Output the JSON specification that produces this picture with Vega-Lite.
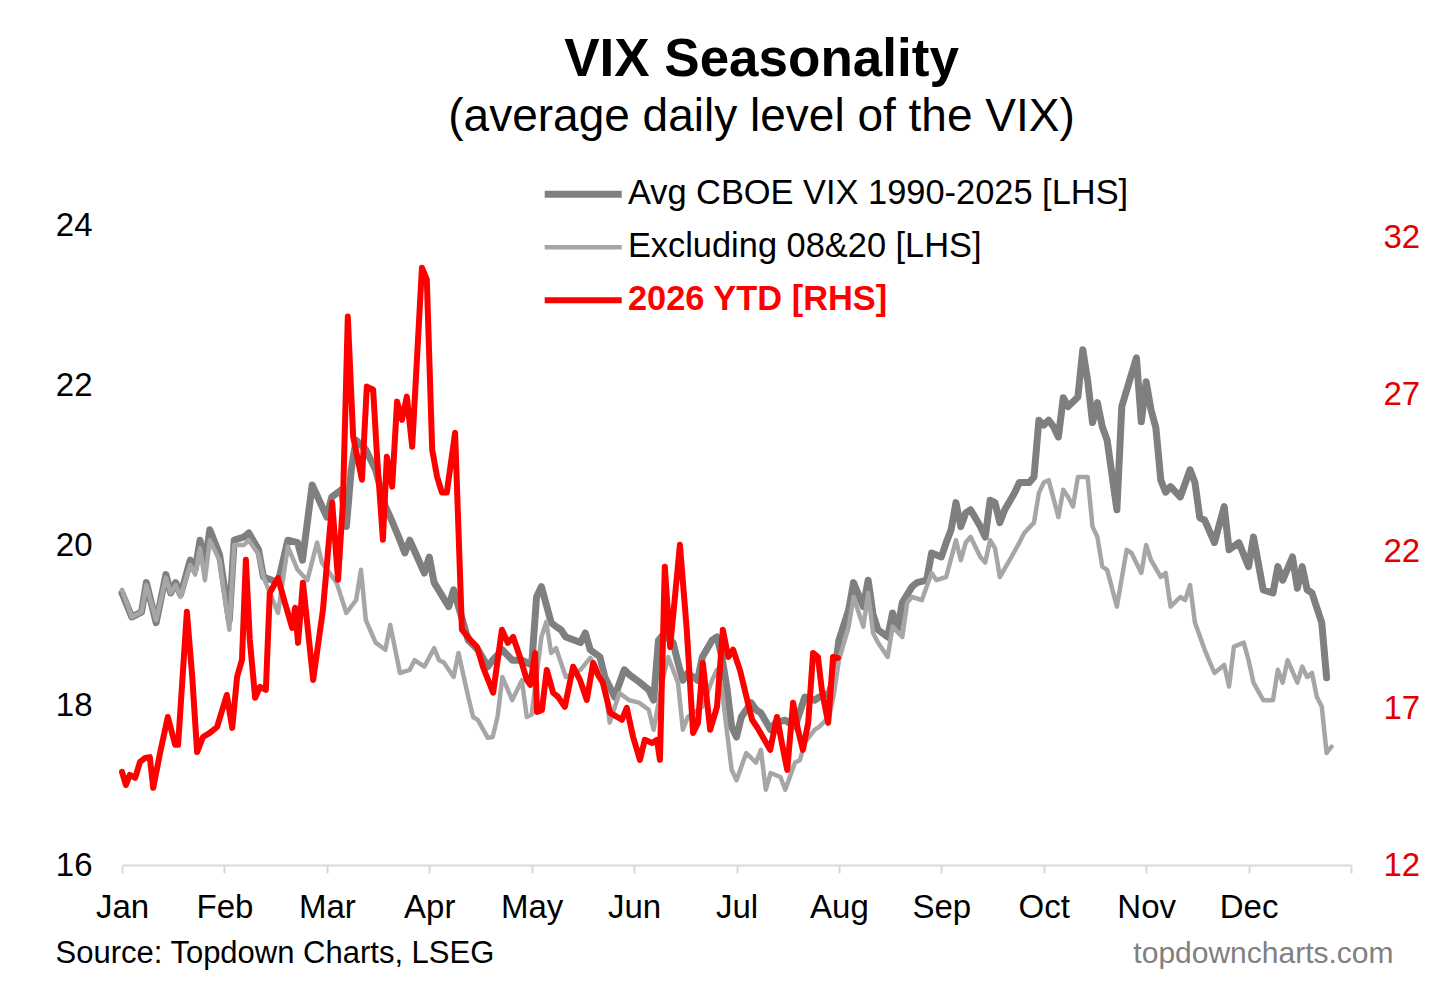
{
  "$schema": "https://vega.github.io/schema/vega-lite/v6.json",
  "width": 1229,
  "height": 640,
  "autosize": {"type": "none"},
  "padding": {"left": 122, "top": 225, "right": 105, "bottom": 134},
  "background": "white",
  "config": {
    "font": "Liberation Sans",
    "view": {"stroke": null},
    "axis": {"grid": false}
  },
  "title": {
    "text": "VIX Seasonality",
    "subtitle": "(average daily level of the VIX)",
    "fontSize": 53,
    "fontWeight": "bold",
    "color": "black",
    "subtitleFontSize": 46,
    "subtitleColor": "black",
    "subtitlePadding": 8,
    "anchor": "middle",
    "dx": 25,
    "offset": 37
  },
  "datasets": {
    "avg": [
      {"day": 0, "vix": 19.40}, {"day": 2, "vix": 19.10}, {"day": 4, "vix": 19.16}, {"day": 5, "vix": 19.53},
      {"day": 7, "vix": 19.03}, {"day": 9, "vix": 19.63}, {"day": 10, "vix": 19.40}, {"day": 11, "vix": 19.53},
      {"day": 12, "vix": 19.38}, {"day": 14, "vix": 19.81}, {"day": 15, "vix": 19.69}, {"day": 16, "vix": 20.06},
      {"day": 17, "vix": 19.75}, {"day": 18, "vix": 20.19}, {"day": 20, "vix": 19.88}, {"day": 22, "vix": 19.06},
      {"day": 23, "vix": 20.06}, {"day": 25, "vix": 20.10}, {"day": 26, "vix": 20.15}, {"day": 28, "vix": 19.94},
      {"day": 29, "vix": 19.60}, {"day": 32, "vix": 19.53}, {"day": 34, "vix": 20.06}, {"day": 36, "vix": 20.03},
      {"day": 37, "vix": 19.81}, {"day": 39, "vix": 20.75}, {"day": 42, "vix": 20.35}, {"day": 43, "vix": 20.60},
      {"day": 45, "vix": 20.69}, {"day": 46, "vix": 20.23}, {"day": 47, "vix": 20.94}, {"day": 48, "vix": 21.31},
      {"day": 50, "vix": 21.19}, {"day": 52, "vix": 20.94}, {"day": 54, "vix": 20.48}, {"day": 55, "vix": 20.35},
      {"day": 57, "vix": 20.06}, {"day": 58, "vix": 19.90}, {"day": 59, "vix": 20.06}, {"day": 62, "vix": 19.65},
      {"day": 63, "vix": 19.85}, {"day": 64, "vix": 19.53}, {"day": 67, "vix": 19.23}, {"day": 68, "vix": 19.44},
      {"day": 71, "vix": 18.81}, {"day": 73, "vix": 18.69}, {"day": 75, "vix": 18.48}, {"day": 76, "vix": 18.56},
      {"day": 78, "vix": 18.69}, {"day": 80, "vix": 18.56}, {"day": 82, "vix": 18.56}, {"day": 84, "vix": 18.50},
      {"day": 85, "vix": 19.35}, {"day": 86, "vix": 19.48}, {"day": 88, "vix": 19.03}, {"day": 89, "vix": 18.98},
      {"day": 90, "vix": 18.94}, {"day": 91, "vix": 18.85}, {"day": 94, "vix": 18.78}, {"day": 95, "vix": 18.90},
      {"day": 96, "vix": 18.69}, {"day": 98, "vix": 18.60}, {"day": 99, "vix": 18.35}, {"day": 101, "vix": 18.10},
      {"day": 103, "vix": 18.44}, {"day": 104, "vix": 18.38}, {"day": 106, "vix": 18.29}, {"day": 108, "vix": 18.19},
      {"day": 109, "vix": 18.06}, {"day": 110, "vix": 18.81}, {"day": 111, "vix": 18.88}, {"day": 113, "vix": 18.78},
      {"day": 114, "vix": 18.53}, {"day": 115, "vix": 18.31}, {"day": 116, "vix": 18.40}, {"day": 118, "vix": 18.31},
      {"day": 119, "vix": 18.60}, {"day": 121, "vix": 18.81}, {"day": 122, "vix": 18.85}, {"day": 123, "vix": 18.60},
      {"day": 124, "vix": 18.23}, {"day": 125, "vix": 17.73}, {"day": 126, "vix": 17.60}, {"day": 127, "vix": 17.85},
      {"day": 129, "vix": 18.03}, {"day": 130, "vix": 17.94}, {"day": 131, "vix": 17.90}, {"day": 133, "vix": 17.69},
      {"day": 134, "vix": 17.78}, {"day": 136, "vix": 17.81}, {"day": 138, "vix": 17.73}, {"day": 140, "vix": 18.10},
      {"day": 142, "vix": 18.06}, {"day": 143, "vix": 18.10}, {"day": 145, "vix": 18.15}, {"day": 146, "vix": 18.35},
      {"day": 147, "vix": 18.81}, {"day": 149, "vix": 19.19}, {"day": 150, "vix": 19.53}, {"day": 152, "vix": 19.23},
      {"day": 153, "vix": 19.56}, {"day": 154, "vix": 19.13}, {"day": 155, "vix": 18.94}, {"day": 157, "vix": 18.85},
      {"day": 158, "vix": 19.15}, {"day": 159, "vix": 18.94}, {"day": 160, "vix": 19.28}, {"day": 162, "vix": 19.48},
      {"day": 163, "vix": 19.53}, {"day": 165, "vix": 19.56}, {"day": 166, "vix": 19.90}, {"day": 168, "vix": 19.85},
      {"day": 169, "vix": 20.03}, {"day": 170, "vix": 20.19}, {"day": 171, "vix": 20.53}, {"day": 172, "vix": 20.23},
      {"day": 173, "vix": 20.40}, {"day": 174, "vix": 20.44}, {"day": 176, "vix": 20.23}, {"day": 177, "vix": 20.10},
      {"day": 178, "vix": 20.56}, {"day": 179, "vix": 20.53}, {"day": 180, "vix": 20.28}, {"day": 181, "vix": 20.44},
      {"day": 183, "vix": 20.65}, {"day": 184, "vix": 20.78}, {"day": 186, "vix": 20.78}, {"day": 187, "vix": 20.85},
      {"day": 188, "vix": 21.56}, {"day": 189, "vix": 21.50}, {"day": 190, "vix": 21.56}, {"day": 191, "vix": 21.48},
      {"day": 192, "vix": 21.35}, {"day": 193, "vix": 21.84}, {"day": 194, "vix": 21.73}, {"day": 196, "vix": 21.85},
      {"day": 197, "vix": 22.44}, {"day": 198, "vix": 22.06}, {"day": 199, "vix": 21.53}, {"day": 200, "vix": 21.78},
      {"day": 201, "vix": 21.48}, {"day": 202, "vix": 21.31}, {"day": 204, "vix": 20.44}, {"day": 205, "vix": 21.73},
      {"day": 208, "vix": 22.34}, {"day": 209, "vix": 21.54}, {"day": 210, "vix": 22.04}, {"day": 211, "vix": 21.69},
      {"day": 212, "vix": 21.46}, {"day": 213, "vix": 20.81}, {"day": 214, "vix": 20.66}, {"day": 215, "vix": 20.73},
      {"day": 217, "vix": 20.60}, {"day": 219, "vix": 20.94}, {"day": 220, "vix": 20.78}, {"day": 221, "vix": 20.34},
      {"day": 222, "vix": 20.31}, {"day": 224, "vix": 20.03}, {"day": 226, "vix": 20.48}, {"day": 227, "vix": 19.94},
      {"day": 229, "vix": 20.03}, {"day": 231, "vix": 19.73}, {"day": 232, "vix": 20.10}, {"day": 234, "vix": 19.44},
      {"day": 236, "vix": 19.40}, {"day": 237, "vix": 19.73}, {"day": 238, "vix": 19.56}, {"day": 240, "vix": 19.85},
      {"day": 241, "vix": 19.46}, {"day": 242, "vix": 19.73}, {"day": 243, "vix": 19.44}, {"day": 244, "vix": 19.40},
      {"day": 246, "vix": 19.03}, {"day": 247, "vix": 18.34}
    ],
    "ex": [
      {"day": 0, "vix": 19.44}, {"day": 2, "vix": 19.10}, {"day": 4, "vix": 19.16}, {"day": 5, "vix": 19.50},
      {"day": 7, "vix": 19.06}, {"day": 9, "vix": 19.59}, {"day": 10, "vix": 19.40}, {"day": 11, "vix": 19.50},
      {"day": 12, "vix": 19.35}, {"day": 14, "vix": 19.75}, {"day": 15, "vix": 19.63}, {"day": 16, "vix": 19.96},
      {"day": 17, "vix": 19.56}, {"day": 18, "vix": 20.06}, {"day": 20, "vix": 19.81}, {"day": 22, "vix": 18.94},
      {"day": 23, "vix": 20.00}, {"day": 25, "vix": 20.00}, {"day": 26, "vix": 20.06}, {"day": 28, "vix": 19.88},
      {"day": 29, "vix": 19.60}, {"day": 32, "vix": 19.15}, {"day": 34, "vix": 19.98}, {"day": 36, "vix": 19.69},
      {"day": 38, "vix": 19.56}, {"day": 40, "vix": 20.03}, {"day": 41, "vix": 19.78}, {"day": 44, "vix": 19.53},
      {"day": 46, "vix": 19.15}, {"day": 48, "vix": 19.31}, {"day": 49, "vix": 19.69}, {"day": 50, "vix": 19.06},
      {"day": 52, "vix": 18.78}, {"day": 54, "vix": 18.69}, {"day": 55, "vix": 19.00}, {"day": 57, "vix": 18.40},
      {"day": 59, "vix": 18.44}, {"day": 60, "vix": 18.56}, {"day": 62, "vix": 18.48}, {"day": 64, "vix": 18.71},
      {"day": 65, "vix": 18.56}, {"day": 66, "vix": 18.53}, {"day": 68, "vix": 18.35}, {"day": 69, "vix": 18.65},
      {"day": 71, "vix": 18.10}, {"day": 72, "vix": 17.85}, {"day": 73, "vix": 17.81}, {"day": 75, "vix": 17.59},
      {"day": 76, "vix": 17.60}, {"day": 77, "vix": 17.85}, {"day": 78, "vix": 18.35}, {"day": 80, "vix": 18.06},
      {"day": 82, "vix": 18.31}, {"day": 83, "vix": 17.85}, {"day": 84, "vix": 17.88}, {"day": 86, "vix": 18.85},
      {"day": 87, "vix": 19.04}, {"day": 88, "vix": 18.65}, {"day": 89, "vix": 18.71}, {"day": 90, "vix": 18.53},
      {"day": 91, "vix": 18.35}, {"day": 94, "vix": 18.44}, {"day": 96, "vix": 18.59}, {"day": 97, "vix": 18.50},
      {"day": 99, "vix": 18.23}, {"day": 100, "vix": 17.78}, {"day": 102, "vix": 18.15}, {"day": 104, "vix": 18.06},
      {"day": 106, "vix": 18.03}, {"day": 108, "vix": 17.94}, {"day": 109, "vix": 17.69}, {"day": 111, "vix": 18.35},
      {"day": 112, "vix": 18.60}, {"day": 114, "vix": 18.28}, {"day": 115, "vix": 17.69}, {"day": 116, "vix": 17.85},
      {"day": 119, "vix": 17.98}, {"day": 121, "vix": 18.31}, {"day": 122, "vix": 18.44}, {"day": 123, "vix": 18.19},
      {"day": 125, "vix": 17.19}, {"day": 126, "vix": 17.06}, {"day": 128, "vix": 17.40}, {"day": 130, "vix": 17.28},
      {"day": 131, "vix": 17.44}, {"day": 132, "vix": 16.94}, {"day": 133, "vix": 17.15}, {"day": 135, "vix": 17.10},
      {"day": 136, "vix": 16.94}, {"day": 138, "vix": 17.28}, {"day": 139, "vix": 17.31}, {"day": 140, "vix": 17.53},
      {"day": 142, "vix": 17.69}, {"day": 143, "vix": 17.73}, {"day": 145, "vix": 17.85}, {"day": 146, "vix": 18.15},
      {"day": 147, "vix": 18.56}, {"day": 149, "vix": 18.98}, {"day": 150, "vix": 19.35}, {"day": 152, "vix": 18.98},
      {"day": 153, "vix": 19.40}, {"day": 154, "vix": 18.90}, {"day": 155, "vix": 18.78}, {"day": 157, "vix": 18.60},
      {"day": 158, "vix": 18.98}, {"day": 160, "vix": 18.85}, {"day": 161, "vix": 19.28}, {"day": 162, "vix": 19.35},
      {"day": 164, "vix": 19.31}, {"day": 166, "vix": 19.65}, {"day": 167, "vix": 19.56}, {"day": 169, "vix": 19.60},
      {"day": 171, "vix": 20.06}, {"day": 172, "vix": 19.81}, {"day": 173, "vix": 20.03}, {"day": 174, "vix": 20.10},
      {"day": 176, "vix": 19.85}, {"day": 177, "vix": 19.78}, {"day": 178, "vix": 20.06}, {"day": 179, "vix": 19.96},
      {"day": 180, "vix": 19.60}, {"day": 182, "vix": 19.81}, {"day": 184, "vix": 20.03}, {"day": 185, "vix": 20.15},
      {"day": 187, "vix": 20.28}, {"day": 188, "vix": 20.65}, {"day": 189, "vix": 20.78}, {"day": 190, "vix": 20.81},
      {"day": 192, "vix": 20.35}, {"day": 193, "vix": 20.69}, {"day": 194, "vix": 20.60}, {"day": 195, "vix": 20.48},
      {"day": 196, "vix": 20.85}, {"day": 198, "vix": 20.85}, {"day": 199, "vix": 20.23}, {"day": 200, "vix": 20.10},
      {"day": 201, "vix": 19.73}, {"day": 202, "vix": 19.69}, {"day": 204, "vix": 19.23}, {"day": 206, "vix": 19.94},
      {"day": 207, "vix": 19.90}, {"day": 209, "vix": 19.65}, {"day": 210, "vix": 20.00}, {"day": 211, "vix": 19.81},
      {"day": 213, "vix": 19.60}, {"day": 214, "vix": 19.65}, {"day": 215, "vix": 19.23}, {"day": 217, "vix": 19.35},
      {"day": 218, "vix": 19.31}, {"day": 219, "vix": 19.50}, {"day": 220, "vix": 19.03}, {"day": 222, "vix": 18.69},
      {"day": 224, "vix": 18.40}, {"day": 226, "vix": 18.50}, {"day": 227, "vix": 18.23}, {"day": 228, "vix": 18.73},
      {"day": 230, "vix": 18.78}, {"day": 231, "vix": 18.56}, {"day": 232, "vix": 18.28}, {"day": 234, "vix": 18.06},
      {"day": 236, "vix": 18.06}, {"day": 237, "vix": 18.44}, {"day": 238, "vix": 18.28}, {"day": 239, "vix": 18.56},
      {"day": 241, "vix": 18.28}, {"day": 242, "vix": 18.48}, {"day": 243, "vix": 18.35}, {"day": 244, "vix": 18.40},
      {"day": 245, "vix": 18.10}, {"day": 246, "vix": 17.98}, {"day": 247, "vix": 17.40}, {"day": 248, "vix": 17.48}
    ],
    "ytd": [
      {"day": 0.0, "vix": 14.97}, {"day": 0.8, "vix": 14.55}, {"day": 1.6, "vix": 14.87}, {"day": 2.7, "vix": 14.78},
      {"day": 3.7, "vix": 15.29}, {"day": 4.7, "vix": 15.41}, {"day": 5.7, "vix": 15.44}, {"day": 6.4, "vix": 14.46},
      {"day": 7.8, "vix": 15.57}, {"day": 9.4, "vix": 16.72}, {"day": 10.9, "vix": 15.83}, {"day": 11.5, "vix": 15.83},
      {"day": 13.3, "vix": 20.07}, {"day": 14.4, "vix": 18.00}, {"day": 15.4, "vix": 15.60}, {"day": 16.6, "vix": 16.08},
      {"day": 18.0, "vix": 16.21}, {"day": 19.5, "vix": 16.40}, {"day": 21.5, "vix": 17.42}, {"day": 22.6, "vix": 16.37},
      {"day": 23.6, "vix": 18.00}, {"day": 24.6, "vix": 18.54}, {"day": 25.4, "vix": 21.73}, {"day": 26.2, "vix": 19.18},
      {"day": 27.3, "vix": 17.33}, {"day": 28.3, "vix": 17.68}, {"day": 29.5, "vix": 17.58}, {"day": 30.3, "vix": 20.68},
      {"day": 32.0, "vix": 21.15}, {"day": 33.4, "vix": 20.36}, {"day": 34.9, "vix": 19.56}, {"day": 35.5, "vix": 20.20},
      {"day": 36.1, "vix": 19.08}, {"day": 37.1, "vix": 21.00}, {"day": 39.2, "vix": 17.90}, {"day": 41.2, "vix": 20.13},
      {"day": 43.1, "vix": 23.55}, {"day": 44.3, "vix": 21.09}, {"day": 45.3, "vix": 23.55}, {"day": 46.3, "vix": 29.48},
      {"day": 47.4, "vix": 25.65}, {"day": 49.2, "vix": 24.28}, {"day": 50.2, "vix": 27.25}, {"day": 51.5, "vix": 27.15},
      {"day": 52.3, "vix": 25.01}, {"day": 53.5, "vix": 22.37}, {"day": 54.3, "vix": 25.01}, {"day": 55.4, "vix": 24.06},
      {"day": 56.4, "vix": 26.77}, {"day": 57.4, "vix": 26.19}, {"day": 58.4, "vix": 26.93}, {"day": 59.5, "vix": 25.33},
      {"day": 61.5, "vix": 31.04}, {"day": 62.5, "vix": 30.66}, {"day": 63.6, "vix": 25.24}, {"day": 64.6, "vix": 24.38},
      {"day": 65.6, "vix": 23.87}, {"day": 66.6, "vix": 23.87}, {"day": 68.3, "vix": 25.78}, {"day": 69.7, "vix": 19.50},
      {"day": 71.4, "vix": 19.18}, {"day": 72.8, "vix": 18.95}, {"day": 74.0, "vix": 18.32}, {"day": 76.1, "vix": 17.49},
      {"day": 77.9, "vix": 19.50}, {"day": 79.1, "vix": 19.08}, {"day": 80.2, "vix": 19.27}, {"day": 81.6, "vix": 18.63},
      {"day": 83.0, "vix": 17.90}, {"day": 83.7, "vix": 17.74}, {"day": 84.7, "vix": 18.76}, {"day": 85.1, "vix": 16.88},
      {"day": 86.1, "vix": 16.94}, {"day": 87.1, "vix": 18.22}, {"day": 88.4, "vix": 17.49}, {"day": 89.4, "vix": 17.36},
      {"day": 90.8, "vix": 17.04}, {"day": 92.5, "vix": 18.32}, {"day": 93.9, "vix": 17.90}, {"day": 95.3, "vix": 17.26},
      {"day": 96.6, "vix": 18.44}, {"day": 97.6, "vix": 18.06}, {"day": 98.6, "vix": 17.81}, {"day": 100.1, "vix": 16.85},
      {"day": 102.5, "vix": 16.63}, {"day": 103.5, "vix": 17.01}, {"day": 104.8, "vix": 16.08}, {"day": 106.2, "vix": 15.35},
      {"day": 107.2, "vix": 15.99}, {"day": 108.7, "vix": 15.89}, {"day": 109.7, "vix": 15.99}, {"day": 110.3, "vix": 15.35},
      {"day": 111.3, "vix": 21.51}, {"day": 112.4, "vix": 18.95}, {"day": 114.4, "vix": 22.21}, {"day": 115.8, "vix": 19.50},
      {"day": 117.1, "vix": 16.21}, {"day": 118.1, "vix": 16.53}, {"day": 119.1, "vix": 18.44}, {"day": 120.6, "vix": 16.31},
      {"day": 122.0, "vix": 17.04}, {"day": 123.2, "vix": 19.50}, {"day": 124.3, "vix": 18.63}, {"day": 125.3, "vix": 18.86},
      {"day": 126.7, "vix": 18.22}, {"day": 128.2, "vix": 17.26}, {"day": 129.2, "vix": 16.63}, {"day": 130.2, "vix": 16.40},
      {"day": 131.4, "vix": 16.08}, {"day": 132.9, "vix": 15.67}, {"day": 134.3, "vix": 16.72}, {"day": 135.3, "vix": 15.89},
      {"day": 136.4, "vix": 15.03}, {"day": 137.6, "vix": 17.17}, {"day": 138.6, "vix": 16.31}, {"day": 139.6, "vix": 15.67},
      {"day": 140.7, "vix": 16.53}, {"day": 141.7, "vix": 18.76}, {"day": 142.7, "vix": 18.63}, {"day": 143.5, "vix": 17.58},
      {"day": 144.8, "vix": 16.53}, {"day": 145.8, "vix": 18.63}, {"day": 146.8, "vix": 18.60}
    ]
  },
  "layer": [
    {
      "layer": [
        {
          "data": {"name": "avg"},
          "mark": {"type": "line", "strokeWidth": 7, "strokeJoin": "round", "strokeCap": "round"},
          "encoding": {
            "x": {
              "field": "day",
              "type": "quantitative",
              "scale": {"domain": [0, 252], "nice": false, "zero": false},
              "axis": {
                "values": [0, 21, 42, 63, 84, 105, 126, 147, 168, 189, 210, 231, 252],
                "labelExpr": "['Jan','Feb','Mar','Apr','May','Jun','Jul','Aug','Sep','Oct','Nov','Dec',''][round(datum.value / 21)]",
                "labelFontSize": 33,
                "labelColor": "black",
                "labelPadding": 18,
                "labelFlush": false,
                "labelOverlap": false,
                "tickSize": 8,
                "tickWidth": 2,
                "tickColor": "#d9d9d9",
                "domainColor": "#d9d9d9",
                "domainWidth": 2,
                "title": "Source: Topdown Charts, LSEG",
                "titleFontSize": 31,
                "titleFontWeight": "normal",
                "titleColor": "black",
                "titleAnchor": "start",
                "titleAlign": "left",
                "titleBaseline": "alphabetic",
                "titleX": -67,
                "titleY": 97
              }
            },
            "y": {
              "field": "vix",
              "type": "quantitative",
              "scale": {"domain": [16, 24], "nice": false, "zero": false},
              "axis": {
                "values": [16, 18, 20, 22, 24],
                "format": "d",
                "labelFontSize": 33,
                "labelColor": "black",
                "ticks": false,
                "domain": false,
                "labelPadding": 30,
                "title": null
              }
            },
            "color": {
              "datum": "Avg CBOE VIX 1990-2025 [LHS]",
              "type": "nominal",
              "scale": {
                "domain": ["Avg CBOE VIX 1990-2025 [LHS]", "Excluding 08&20 [LHS]", "2026 YTD [RHS]"],
                "range": ["#7f7f7f", "#a6a6a6", "#ff0000"]
              },
              "legend": {
                "title": null,
                "orient": "none",
                "legendX": 444,
                "legendY": -48,
                "padding": 0,
                "symbolType": "stroke",
                "symbolSize": 5929,
                "symbolStrokeWidth": {"expr": "datum.value == 'Avg CBOE VIX 1990-2025 [LHS]' ? 7 : datum.value == '2026 YTD [RHS]' ? 6 : 4.5"},
                "labelFontSize": 34.4,
                "labelColor": {"expr": "datum.value == '2026 YTD [RHS]' ? '#ff0000' : '#000000'"},
                "labelFontWeight": {"expr": "datum.value == '2026 YTD [RHS]' ? 'bold' : 'normal'"},
                "labelOffset": 27.5,
                "labelLimit": 1000,
                "rowPadding": 18
              }
            }
          }
        },
        {
          "data": {"name": "ex"},
          "mark": {"type": "line", "strokeWidth": 4.5, "strokeJoin": "round", "strokeCap": "round"},
          "encoding": {
            "x": {"field": "day", "type": "quantitative"},
            "y": {"field": "vix", "type": "quantitative"},
            "color": {"datum": "Excluding 08&20 [LHS]", "type": "nominal"}
          }
        }
      ]
    },
    {
      "data": {"name": "ytd"},
      "mark": {"type": "line", "strokeWidth": 6, "strokeJoin": "round", "strokeCap": "round"},
      "encoding": {
        "x": {
          "field": "day",
          "type": "quantitative",
          "axis": {
            "orient": "bottom",
            "labels": false,
            "ticks": false,
            "domain": false,
            "title": "topdowncharts.com",
            "titleFontSize": 30,
            "titleFontWeight": "normal",
            "titleColor": "#808080",
            "titleAnchor": "end",
            "titleAlign": "right",
            "titleBaseline": "alphabetic",
            "titleX": 1271,
            "titleY": 97
          }
        },
        "y": {
          "field": "vix",
          "type": "quantitative",
          "scale": {"domain": [12, 32.4], "nice": false, "zero": false},
          "axis": {
            "orient": "right",
            "values": [12, 17, 22, 27, 32],
            "labelFontSize": 33,
            "labelColor": "#e00000",
            "ticks": false,
            "domain": false,
            "labelPadding": 32,
            "title": null
          }
        },
        "color": {"datum": "2026 YTD [RHS]", "type": "nominal"}
      }
    }
  ],
  "resolve": {"scale": {"y": "independent"}, "axis": {"x": "independent"}}
}
